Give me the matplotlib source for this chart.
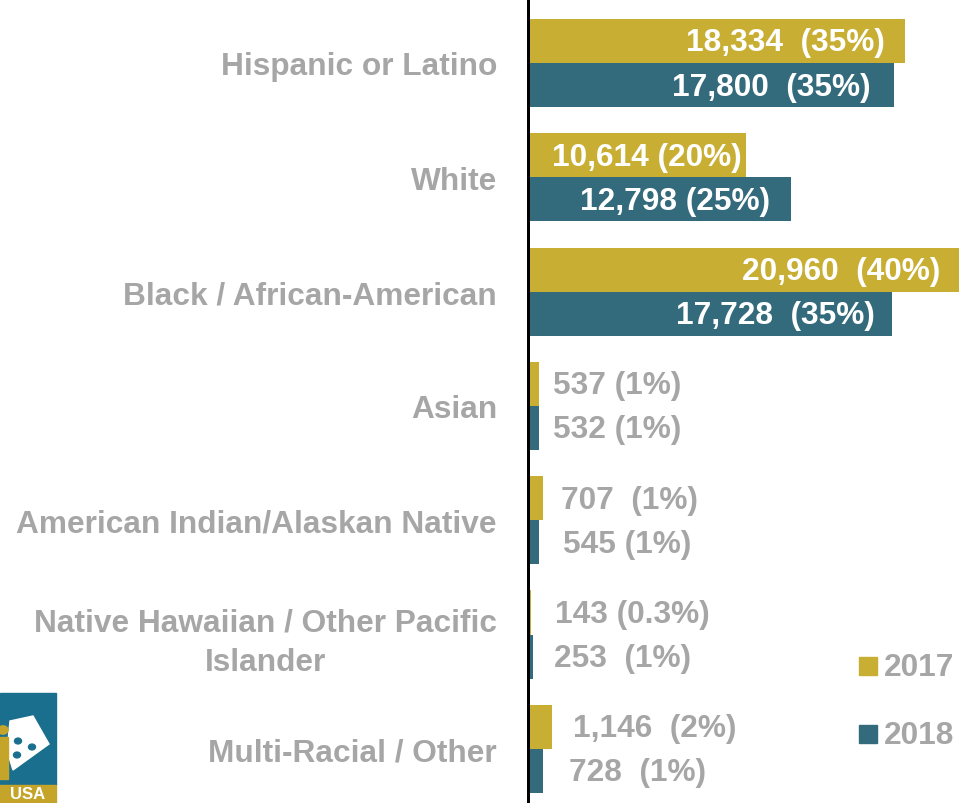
import matplotlib.pyplot as plt
from matplotlib.patches import Rectangle, Polygon, Circle

plt.rcParams["font.family"] = ["Liberation Sans", "DejaVu Sans"]
plt.rcParams["font.weight"] = "bold"

categories = [
    "Hispanic or Latino",
    "White",
    "Black / African-American",
    "Asian",
    "American Indian/Alaskan Native",
    "Native Hawaiian / Other Pacific\nIslander",
    "Multi-Racial / Other",
]
values_2017 = [18334, 10614, 20960, 537, 707, 143, 1146]
values_2018 = [17800, 12798, 17728, 532, 545, 253, 728]
labels_2017 = ["18,334  (35%)", "10,614 (20%)", "20,960  (40%)", "537 (1%)",
               "707  (1%)", "143 (0.3%)", "1,146  (2%)"]
labels_2018 = ["17,800  (35%)", "12,798 (25%)", "17,728  (35%)", "532 (1%)",
               "545 (1%)", "253  (1%)", "728  (1%)"]

# hand placement of value labels, in pixels (inside: gap from bar end, outside: gap from axis)
pad_2017 = [20, 4, 18, 25, 33, 27, 45]
pad_2018 = [23, 21, 17, 25, 35, 26, 41]

GOLD = "#C8AF33"
TEAL = "#336B7D"
GRAY = "#A6A6A6"
FS = 22.8

W, H = 961, 804
fig = plt.figure(figsize=(W / 100, H / 100), dpi=100)
ax = fig.add_axes([528 / W, 0, 1 - 528 / W, 1])

n = len(categories)
bh = 0.385
y = list(range(n))
y17 = [v - bh / 2 for v in y]
y18 = [v + bh / 2 for v in y]
ax.barh(y17, values_2017, height=bh, color=GOLD)
ax.barh(y18, values_2018, height=bh, color=TEAL)

ax.set_xlim(0, 21070)
ax.set_ylim((H - 64) / 114.3, -64 / 114.3)

px = 72 / 100  # points per pixel
for ys, vals, labs, pads in [(y17, values_2017, labels_2017, pad_2017),
                             (y18, values_2018, labels_2018, pad_2018)]:
    for yy, v, lab, p in zip(ys, vals, labs, pads):
        if v > 5000:
            ax.annotate(lab, (v, yy), xytext=(-p * px, -1.5 * px), textcoords="offset points",
                        ha="right", va="center", color="white", fontsize=FS,
                        fontweight="bold")
        else:
            ax.annotate(lab, (0, yy), xytext=(p * px, -1.5 * px), textcoords="offset points",
                        ha="left", va="center", color=GRAY, fontsize=FS,
                        fontweight="bold")

ax.set_yticks(y)
ax.set_yticklabels(categories, fontsize=FS, color=GRAY, fontweight="bold")
for lbl in ax.get_yticklabels():
    lbl.set_multialignment("center")
    lbl.set_linespacing(1.4)
ax.tick_params(axis="y", length=0, pad=31 * px)
ax.set_xticks([])
for s in ["top", "right", "bottom"]:
    ax.spines[s].set_visible(False)
ax.spines["left"].set_linewidth(3 * px)
ax.spines["left"].set_color("black")


def fx(x):
    return x / W


def fy(yp):
    return 1 - yp / H


# legend
for yp, col, txt in [(658, GOLD, "2017"), (726, TEAL, "2018")]:
    fig.patches.append(Rectangle((fx(859), fy(yp + 18)), 18 / W, 18 / H,
                                 transform=fig.transFigure, color=col))
    fig.text(fx(884), fy(yp + 10), txt, color=GRAY, fontsize=FS, fontweight="bold",
             ha="left", va="center")

# partial logo in the bottom-left corner
fig.patches.append(Rectangle((0, fy(786)), 56 / W, 92 / H, transform=fig.transFigure,
                             color="#1A6F8E"))
fig.patches.append(Rectangle((0, 0), 56 / W, 18 / H, transform=fig.transFigure,
                             color="#C4A52A"))
poly = [(10, 722), (33, 717), (49, 745), (13, 771), (7, 752)]
fig.patches.append(Polygon([(fx(a), fy(b)) for a, b in poly], closed=True,
                           transform=fig.transFigure, color="white"))
for cx, cy in [(18, 742), (32, 748), (17, 756)]:
    fig.patches.append(Circle((fx(cx), fy(cy)), 3.5 / W, transform=fig.transFigure,
                              color="#1A6F8E"))
fig.patches.append(Circle((fx(3), fy(731)), 5 / W, transform=fig.transFigure,
                          color="#C4A52A"))
fig.patches.append(Rectangle((0, fy(780)), 8 / W, 42 / H, transform=fig.transFigure,
                             color="#C4A52A"))
fig.text(fx(28), fy(795), "USA", color="white", fontsize=12, fontweight="bold",
         ha="center", va="center")

fig.savefig("out.png", dpi=100)
